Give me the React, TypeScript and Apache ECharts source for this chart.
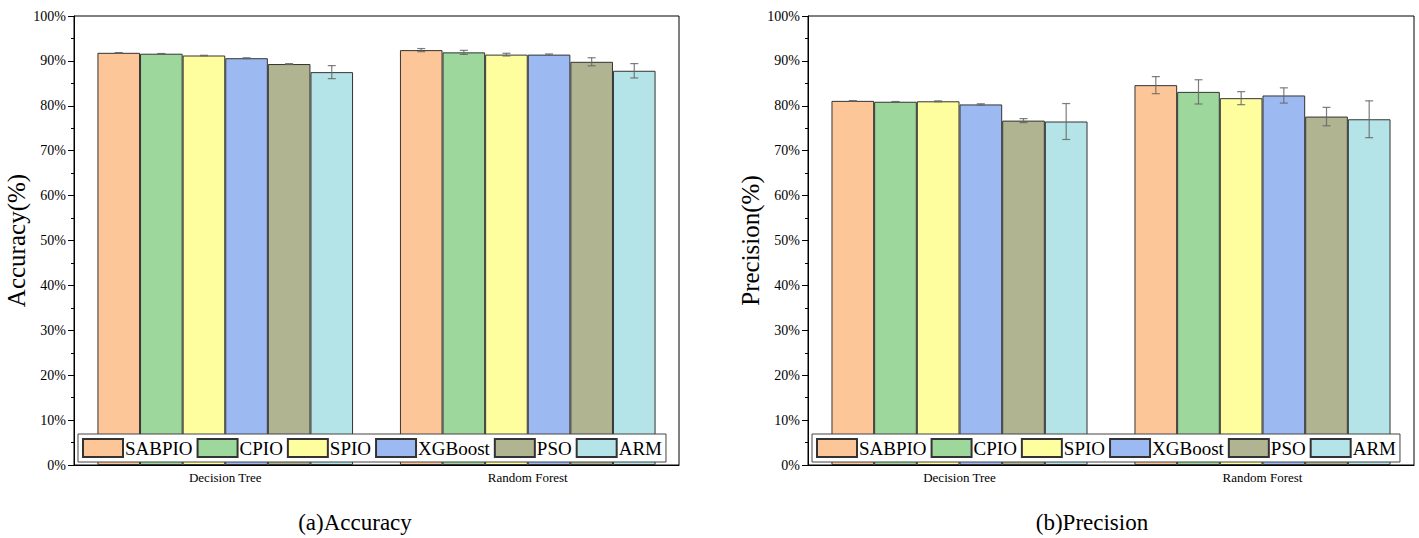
import React, { useEffect, useRef } from "react";
import * as echarts from "echarts";

const categories = ["Decision Tree", "Random Forest"];
const methods = ["SABPIO", "CPIO", "SPIO", "XGBoost", "PSO", "ARM"];
const colors = ["#FDC698", "#9ED79C", "#FEFE9F", "#9CB9F2", "#B0B491", "#B5E4E8"];

// Accuracy (%) per method, for Decision Tree and Random Forest
const accuracyDT = [91.8, 91.6, 91.2, 90.6, 89.3, 87.5];
const accuracyRF = [92.4, 91.9, 91.4, 91.4, 89.8, 87.8];
const accuracyErrDT = [0.05, 0.05, 0.05, 0.1, 0.1, 1.45];
const accuracyErrRF = [0.35, 0.45, 0.3, 0.15, 0.9, 1.6];

// Precision (%) per method, for Decision Tree and Random Forest
const precisionDT = [81.1, 80.9, 81.0, 80.3, 76.7, 76.5];
const precisionRF = [84.6, 83.1, 81.7, 82.3, 77.6, 77.0];
const precisionErrDT = [0.05, 0.05, 0.1, 0.15, 0.45, 4.0];
const precisionErrRF = [1.9, 2.7, 1.45, 1.7, 2.05, 4.1];

const yTicks = { min: 0, max: 100, interval: 10 };
const CATEGORY_GAP = 0.155;
const FONT = "'Liberation Serif', 'Times New Roman', serif";

function barSeries(gridIdx: number, dt: number[], rf: number[]) {
  return methods.map((m, i) => ({
    name: m,
    type: "bar",
    xAxisIndex: gridIdx,
    yAxisIndex: gridIdx,
    barGap: "0%",
    barCategoryGap: `${CATEGORY_GAP * 100}%`,
    data: [dt[i], rf[i]],
    itemStyle: { color: colors[i], borderColor: "#333", borderWidth: 1 },
  }));
}

function errorSeries(gridIdx: number, dt: number[], rf: number[], edt: number[], erf: number[]) {
  const data: number[][] = [];
  methods.forEach((_, i) => {
    data.push([0, i, dt[i], edt[i]]);
    data.push([1, i, rf[i], erf[i]]);
  });
  return {
    type: "custom",
    xAxisIndex: gridIdx,
    yAxisIndex: gridIdx,
    z: 5,
    silent: true,
    data,
    renderItem: (_params: any, api: any) => {
      const cat = api.value(0);
      const idx = api.value(1);
      const v = api.value(2);
      const e = api.value(3);
      const band = api.size([1, 0])[0];
      const groupW = band * (1 - CATEGORY_GAP);
      const barW = groupW / methods.length;
      const cx = api.coord([cat, v])[0] - groupW / 2 + barW * (idx + 0.5);
      const yTop = api.coord([cat, v + e])[1];
      const yBot = api.coord([cat, v - e])[1];
      const cap = 4;
      const style = { stroke: "#666", lineWidth: 1.2, opacity: 0.85 };
      return {
        type: "group",
        children: [
          { type: "line", shape: { x1: cx, y1: yTop, x2: cx, y2: yBot }, style },
          { type: "line", shape: { x1: cx - cap, y1: yTop, x2: cx + cap, y2: yTop }, style },
          { type: "line", shape: { x1: cx - cap, y1: yBot, x2: cx + cap, y2: yBot }, style },
        ],
      };
    },
  };
}

function yAxis(gridIdx: number, name: string) {
  return {
    type: "value",
    gridIndex: gridIdx,
    ...yTicks,
    name,
    nameLocation: "middle",
    nameGap: 38,
    nameTextStyle: { fontSize: 25, fontFamily: FONT, color: "#000" },
    axisLine: { show: true, lineStyle: { color: "#000", width: 1 } },
    axisTick: { show: true, length: 6, lineStyle: { color: "#000" } },
    minorTick: { show: true, splitNumber: 2, length: 3, lineStyle: { color: "#000" } },
    splitLine: { show: false },
    axisLabel: { formatter: "{value}%", fontSize: 14, fontFamily: FONT, color: "#000", margin: 8 },
  };
}

function xAxis(gridIdx: number) {
  return {
    type: "category",
    gridIndex: gridIdx,
    data: categories,
    axisLine: { show: true, lineStyle: { color: "#000", width: 1 } },
    axisTick: { show: false },
    axisLabel: { fontSize: 13, fontFamily: FONT, color: "#000", margin: 6 },
  };
}

function legend(left: number) {
  return {
    data: methods,
    left,
    top: 434,
    orient: "horizontal",
    icon: "rect",
    itemWidth: 40,
    itemHeight: 18,
    itemGap: 4,
    padding: [4, 4],
    backgroundColor: "#fff",
    borderColor: "#444",
    borderWidth: 1,
    borderRadius: 0,
    textStyle: { fontSize: 19, fontFamily: FONT, color: "#000", padding: [0, 0, 0, -3] },
  };
}

export default function App() {
  const ref = useRef<HTMLDivElement>(null);

  useEffect(() => {
    document.body.style.margin = "0";
    if (!ref.current) return;
    const chart = echarts.init(ref.current, null, { renderer: "svg" });
    chart.setOption({
      animation: false,
      backgroundColor: "#fff",
      grid: [
        { left: 74, right: 740, top: 16, bottom: 73, show: true, borderColor: "#000", borderWidth: 1, backgroundColor: "transparent" },
        { left: 808, right: 5, top: 16, bottom: 73, show: true, borderColor: "#000", borderWidth: 1, backgroundColor: "transparent" },
      ],
      xAxis: [xAxis(0), xAxis(1)],
      yAxis: [yAxis(0, "Accuracy(%)"), yAxis(1, "Precision(%)")],
      legend: [legend(78), legend(812)],
      graphic: [
        {
          type: "text",
          x: 355,
          y: 522,
          style: { text: "(a)Accuracy", fontSize: 23, fontFamily: FONT, fill: "#000", textAlign: "center", textVerticalAlign: "middle" },
        },
        {
          type: "text",
          x: 1092,
          y: 522,
          style: { text: "(b)Precision", fontSize: 23, fontFamily: FONT, fill: "#000", textAlign: "center", textVerticalAlign: "middle" },
        },
      ],
      series: [
        ...barSeries(0, accuracyDT, accuracyRF),
        ...barSeries(1, precisionDT, precisionRF),
        errorSeries(0, accuracyDT, accuracyRF, accuracyErrDT, accuracyErrRF),
        errorSeries(1, precisionDT, precisionRF, precisionErrDT, precisionErrRF),
      ],
    });
    return () => chart.dispose();
  }, []);

  return <div ref={ref} style={{ width: 1419, height: 538 }} />;
}
